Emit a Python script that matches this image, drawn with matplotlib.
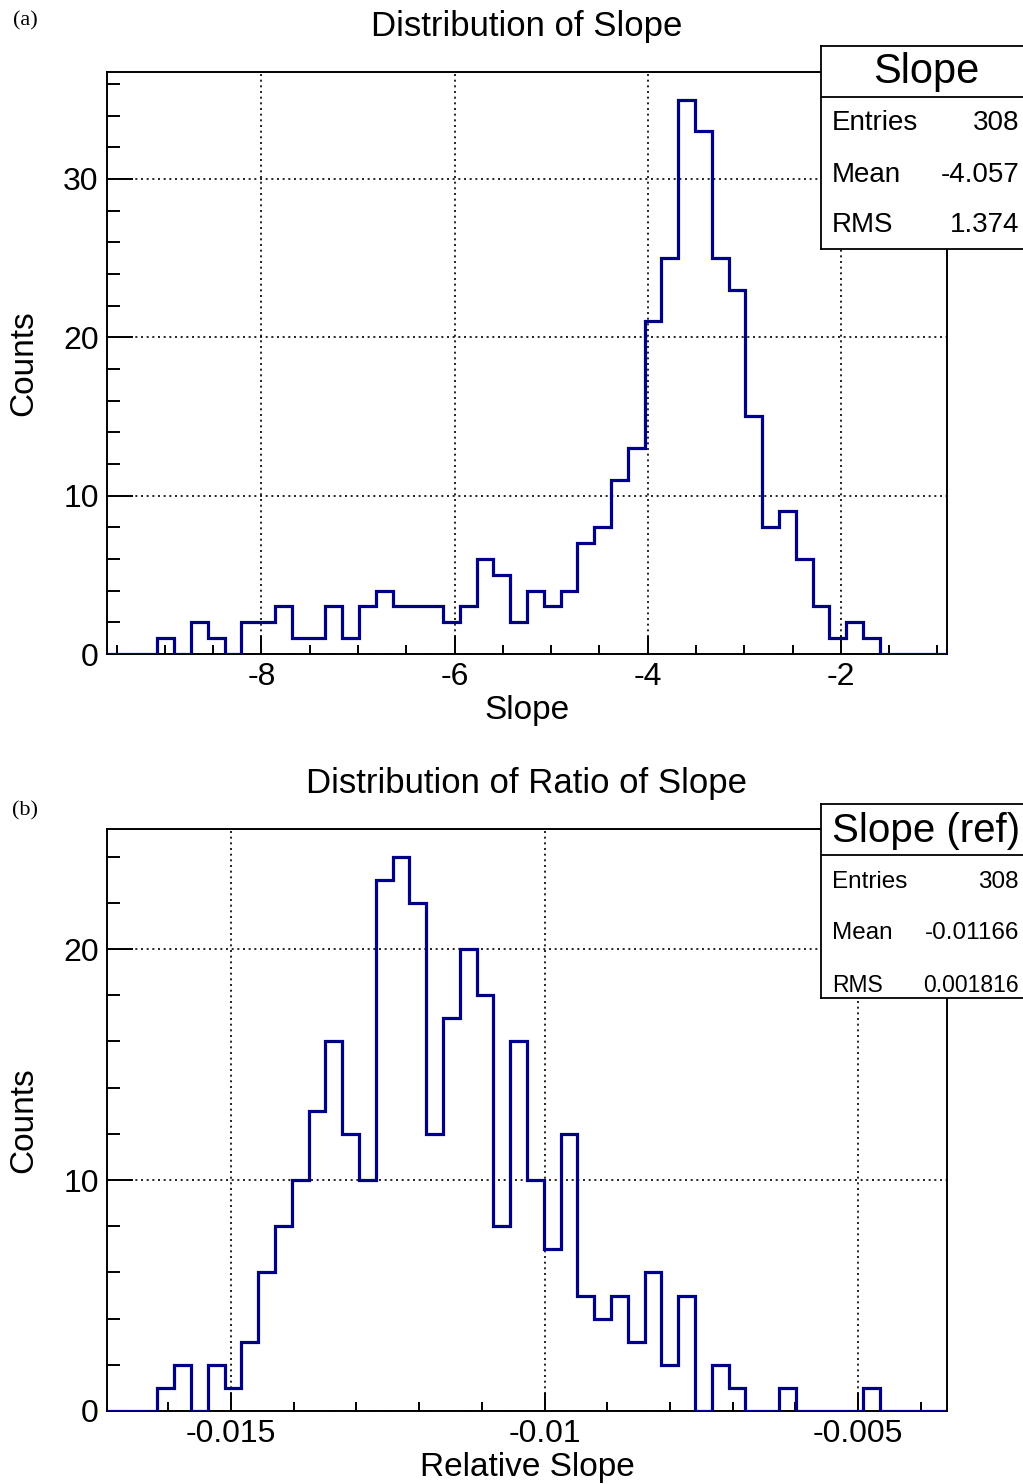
import numpy as np
import matplotlib
matplotlib.use("Agg")
import matplotlib.pyplot as plt
from matplotlib.ticker import MultipleLocator
from matplotlib.lines import Line2D

plt.rcParams['font.family'] = ['Liberation Sans', 'DejaVu Sans']

# ---- histogram contents -------------------------------------------------
slope_range = (-9.6, -0.9)
slope_counts = [0, 0, 0, 1, 0, 2, 1, 0, 2, 2,
                3, 1, 1, 3, 1, 3, 4, 3, 3, 3,
                2, 3, 6, 5, 2, 4, 3, 4, 7, 8,
                11, 13, 21, 25, 35, 33, 25, 23, 15, 8,
                9, 6, 3, 1, 2, 1, 0, 0, 0, 0]

ratio_range = (-0.01698, -0.00358)
ratio_counts = [0, 0, 0, 1, 2, 0, 2, 1, 3, 6,
                8, 10, 13, 16, 12, 10, 23, 24, 22, 12,
                17, 20, 18, 8, 16, 10, 7, 12, 5, 4,
                5, 3, 6, 2, 5, 0, 2, 1, 0, 0,
                1, 0, 0, 0, 0, 1, 0, 0, 0, 0]

slope_xticks = [-8, -6, -4, -2]
slope_yticks = [0, 10, 20, 30]
ratio_xticks = [-0.015, -0.01, -0.005]
ratio_xticklabels = ["-0.015", "-0.01", "-0.005"]
ratio_yticks = [0, 10, 20]

slope_stats = [("Entries", "308"), ("Mean", "-4.057"), ("RMS", "1.374")]
ratio_stats = [("Entries", "308"), ("Mean", "-0.01166"), ("RMS", "0.001816")]

LINE = "#000088"
W, H = 1023, 1484

fig = plt.figure(figsize=(W / 100, H / 100), dpi=100)


def fx(px):
    return px / W


def fy(py):
    return 1 - py / H


def hist_panel(top, counts, xrange_, xticks, xticklabels, yticks,
               xminor, title, xlabel):
    left, right, bottom = 107, 947, top + 582
    ax = fig.add_axes([fx(left), fy(bottom), fx(right - left), (bottom - top) / H])
    edges = np.linspace(xrange_[0], xrange_[1], len(counts) + 1)
    ax.stairs(counts, edges, color=LINE, lw=2.3, baseline=0, zorder=3)
    ax.set_xlim(*xrange_)
    ax.set_ylim(0, 1.05 * max(counts))
    ax.set_xticks(xticks)
    ax.set_xticklabels(xticklabels)
    ax.set_yticks(yticks)
    ax.xaxis.set_minor_locator(MultipleLocator(xminor))
    ax.yaxis.set_minor_locator(MultipleLocator(2))
    ax.tick_params(axis='x', which='major', direction='in', length=13, width=1.4,
                   labelsize=23, pad=6, top=False)
    ax.tick_params(axis='x', which='minor', direction='in', length=6.5, width=1.4, top=False)
    ax.tick_params(axis='y', which='major', direction='in', length=19, width=1.4,
                   labelsize=23, pad=6, right=False)
    ax.tick_params(axis='y', which='minor', direction='in', length=9.5, width=1.4, right=False)
    for s in ax.spines.values():
        s.set_linewidth(1.4)
    ax.grid(True, which='major', color='black', lw=1.2,
            linestyle=(0, (1.2, 2.2)), zorder=1)
    ax.set_axisbelow(True)
    ax.set_title(title, fontsize=25, pad=26)
    ax.set_xlabel(xlabel, fontsize=24, labelpad=2)
    ax.set_ylabel("Counts", fontsize=24, va='center')
    ax.yaxis.set_label_coords((24 - left) / (right - left), 0.5)
    return ax


def stat_box(top, sep, bottom, name, rows, head_size, row_sizes, row_ys):
    left, right = 821, 1023
    bx = fig.add_axes([fx(left), fy(bottom), fx(right - left), (bottom - top) / H])
    bx.set_xlim(left, right)
    bx.set_ylim(bottom, top)
    bx.set_xticks([])
    bx.set_yticks([])
    bx.set_facecolor('white')
    bx.set_zorder(10)
    for s in bx.spines.values():
        s.set_linewidth(1.3)
    bx.spines['right'].set_visible(False)
    bx.add_line(Line2D([left, right], [sep, sep], color='black', lw=1.3))
    bx.text((left + right) / 2 + 4, (top + sep) / 2 + 1, name, fontsize=head_size,
            ha='center', va='center')
    for (lab, val), size, y in zip(rows, row_sizes, row_ys):
        bx.text(832, y, lab, fontsize=size, ha='left', va='center')
        bx.text(1019, y, val, fontsize=size, ha='right', va='center')
    return bx


# (a) slope
hist_panel(72, slope_counts, slope_range, slope_xticks,
           [str(t) for t in slope_xticks], slope_yticks, 0.5,
           "Distribution of Slope", "Slope")
stat_box(46, 97, 249, "Slope", slope_stats, 30, [20, 20, 20], [123, 175, 225])

# (b) relative slope
hist_panel(829, ratio_counts, ratio_range, ratio_xticks,
           ratio_xticklabels, ratio_yticks, 0.001,
           "Distribution of Ratio of Slope", "Relative Slope")
stat_box(804, 855, 998, "Slope (ref)", ratio_stats, 29, [17.5, 17.5, 16.5],
         [882, 933, 985])

fig.text(fx(25), fy(21), "(a)", fontsize=16, family='Liberation Serif',
         ha='center', va='center')
fig.text(fx(25), fy(811), "(b)", fontsize=16, family='Liberation Serif',
         ha='center', va='center')

fig.savefig("out.png", dpi=100, facecolor='white')
